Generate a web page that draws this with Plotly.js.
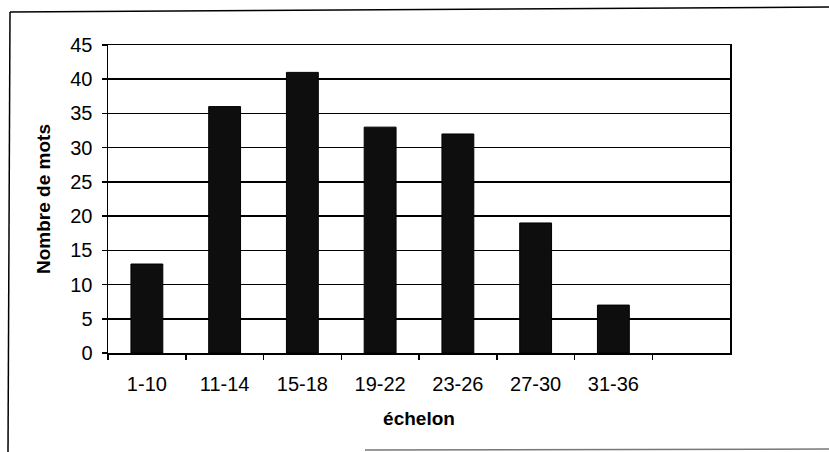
<!DOCTYPE html>
<html>
<head>
<meta charset="utf-8">
<script src="https://cdn.plot.ly/plotly-3.0.1.min.js"></script>
<style>
  html, body { margin: 0; padding: 0; background: #fff; }
  #chart { width: 829px; height: 452px; }
</style>
</head>
<body>
<div id="chart"></div>
<script>
// Data
var categories = ["1-10", "11-14", "15-18", "19-22", "23-26", "27-30", "31-36"];
var values = [13, 36, 41, 33, 32, 19, 7];
var yTickValues = [0, 5, 10, 15, 20, 25, 30, 35, 40, 45];

var W = 829, H = 452;
var L = 108, R = 730, T = 45, B = 353;
function px(x) { return (x - L) / (R - L); }
function py(y) { return (B - y) / (B - T); }

var font = "Liberation Sans, Arial, sans-serif";

var trace = {
  type: "bar",
  x: categories,
  y: values,
  marker: {
    color: "#0e0e0e",
    line: { color: "#000", width: 1 }
  },
  hoverinfo: "x+y"
};

var layout = {
  width: W,
  height: H,
  margin: { l: L, r: W - R, t: T, b: H - B, pad: 0 },
  paper_bgcolor: "#fff",
  plot_bgcolor: "#fff",
  showlegend: false,
  bargap: 0.59,
  font: { family: font, color: "#000", size: 20 },
  xaxis: {
    type: "category",
    categoryorder: "array",
    categoryarray: categories,
    range: [-0.5, 7.5],
    showgrid: false,
    showline: true,
    linecolor: "#000",
    linewidth: 1.5,
    mirror: true,
    ticks: "outside",
    tickson: "boundaries",
    ticklen: 5,
    tickcolor: "#000",
    tickwidth: 1.5,
    ticklabelstandoff: 12,
    tickfont: { family: font, size: 20, color: "#000" },
    title: { text: "<b>échelon</b>", font: { family: font, size: 19, color: "#000" }, standoff: 18 },
    fixedrange: true
  },
  yaxis: {
    range: [0, 45],
    tickvals: yTickValues,
    ticktext: yTickValues.map(String),
    showgrid: true,
    gridcolor: "#000",
    gridwidth: 1.5,
    zeroline: false,
    showline: true,
    linecolor: "#000",
    linewidth: 1.5,
    mirror: true,
    ticks: "outside",
    ticklen: 5,
    tickcolor: "#000",
    tickwidth: 1.5,
    ticklabelstandoff: 5,
    tickfont: { family: font, size: 20, color: "#000" },
    title: { text: "<b>Nombre de mots</b>", font: { family: font, size: 19, color: "#000" }, standoff: 14 },
    fixedrange: true
  },
  shapes: [
    { type: "line", xref: "paper", yref: "paper", x0: px(10), y0: py(12), x1: px(829), y1: py(7),
      line: { color: "#000", width: 1.5 } },
    { type: "line", xref: "paper", yref: "paper", x0: px(10), y0: py(12), x1: px(8), y1: py(452),
      line: { color: "#000", width: 1.5 } },
    { type: "line", xref: "paper", yref: "paper", x0: px(365), y0: py(450), x1: px(829), y1: py(449),
      line: { color: "#777", width: 1.5 } }
  ]
};

Plotly.newPlot("chart", [trace], layout, { displayModeBar: false, staticPlot: true });
</script>
</body>
</html>
